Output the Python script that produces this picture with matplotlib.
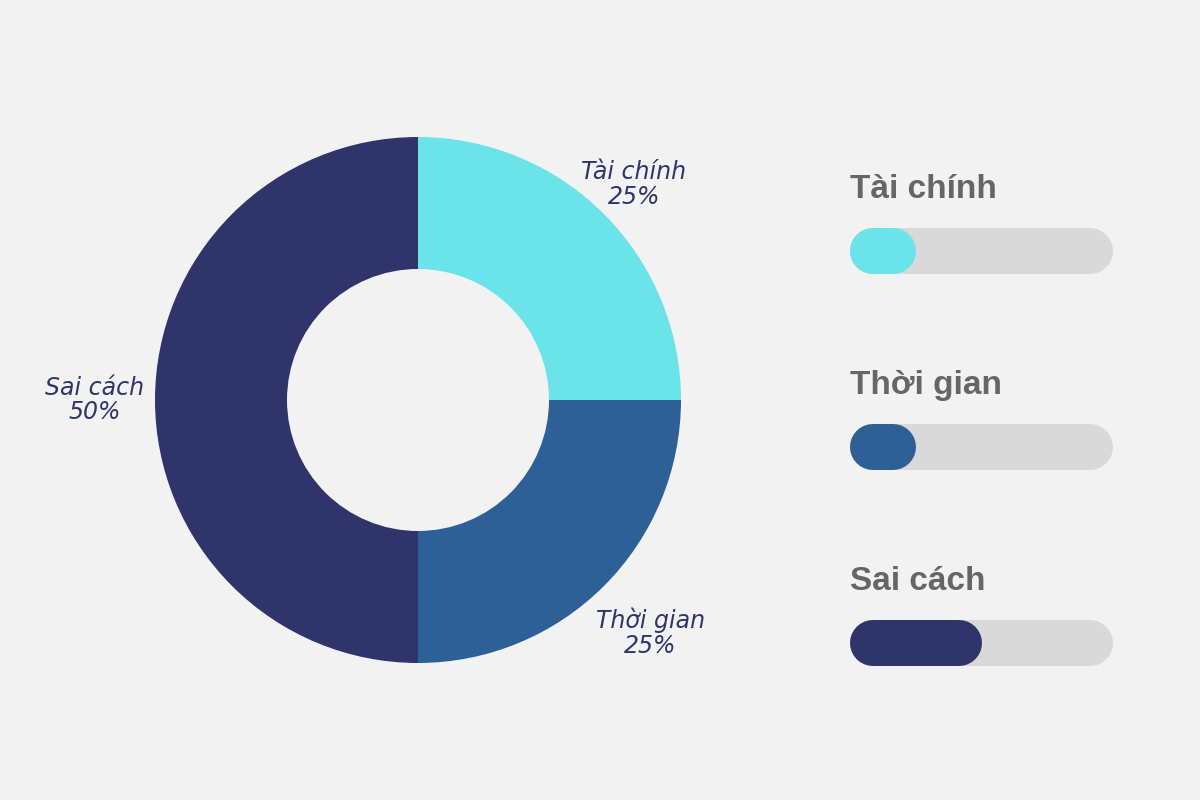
import matplotlib.pyplot as plt
import numpy as np

categories = ['Tài chính', 'Thời gian', 'Sai cách']
percent = [25, 25, 50]
colors = ['#6ae4e9', '#2d6097', '#2f346b']

bg = '#f2f2f2'
label_col = '#2f346b'

fig = plt.figure(figsize=(12, 8), dpi=100, facecolor=bg)
ax = fig.add_axes([0, 0, 1, 1])
ax.set_facecolor(bg)

# donut, pixel-like coordinates (y up)
cx, cy, R = 418, 400, 263
wedges, _ = ax.pie(percent, colors=colors, startangle=90, counterclock=False,
                   center=(cx, cy), radius=R,
                   wedgeprops=dict(width=132, linewidth=0))

label_dist = [1.16, 1.25, 1.23]
for w, name, p, d in zip(wedges, categories, percent, label_dist):
    ang = np.deg2rad((w.theta1 + w.theta2) / 2)
    x = cx + d * R * np.cos(ang)
    y = cy + d * R * np.sin(ang)
    ax.text(x, y, f'{name}\n{p}%', ha='center', va='center', fontsize=17,
            style='italic', color=label_col, family='DejaVu Sans', linespacing=1.05)

# progress bars on the right (round-capped thick lines)
bx, bw, bh = 850, 263, 46
lw = bh * 72 / 100          # px -> pt
bar_y = [549, 353, 157]     # bar centre, from bottom
head_y = [602, 406, 210]    # heading baseline
for name, p, c, yc, yh in zip(categories, percent, colors, bar_y, head_y):
    ax.text(bx, yh, name, ha='left', va='baseline', fontsize=24,
            fontweight='bold', color='#666666', family='Liberation Sans')
    ax.plot([bx + bh / 2, bx + bw - bh / 2], [yc, yc], color='#d9d9d9',
            lw=lw, solid_capstyle='round')
    ax.plot([bx + bh / 2, bx + bw * p / 100 - bh / 2], [yc, yc], color=c,
            lw=lw, solid_capstyle='round')

ax.set_xlim(0, 1200)
ax.set_ylim(0, 800)
ax.set_aspect('auto')
ax.axis('off')

fig.savefig('out.png', dpi=100, facecolor=bg)
